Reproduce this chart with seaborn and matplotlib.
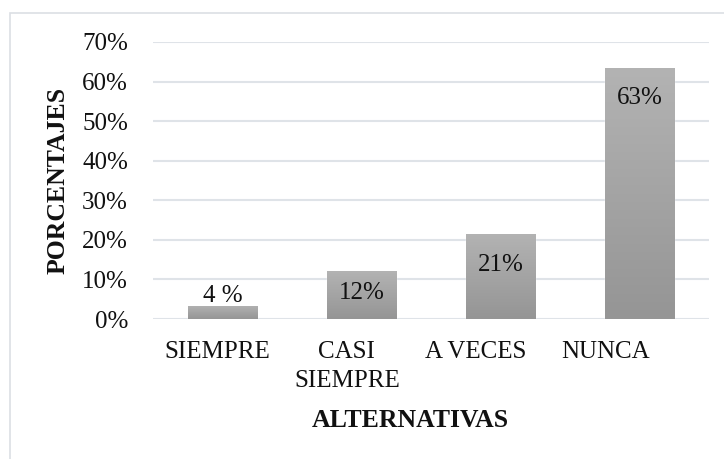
import numpy as np
import pandas as pd
import matplotlib
matplotlib.use('Agg')
import matplotlib.pyplot as plt
from matplotlib.colors import LinearSegmentedColormap
from matplotlib.patches import Rectangle
import seaborn as sns

# datos del gráfico
alternativas = ['SIEMPRE', 'CASI\nSIEMPRE', 'A VECES', 'NUNCA']
porcentajes = [3.4, 12.1, 21.5, 63.4]
etiquetas = ['4 %', '12%', '21%', '63%']

sns.set_style('white')
plt.rcParams['font.family'] = ['Liberation Serif', 'DejaVu Serif']

df = pd.DataFrame({'Alternativa': alternativas, 'Porcentaje': porcentajes})

fig = plt.figure(figsize=(7.24, 4.59), dpi=100)
ax = fig.add_axes([0.2113, 0.305, 0.768, 0.6035])

sns.barplot(data=df, x='Alternativa', y='Porcentaje', color='#a6a6a6',
            width=0.5, ax=ax, zorder=3)

# relleno degradado en cada barra
degradado = LinearSegmentedColormap.from_list('gris', ['#959595', '#b3b3b3'])
grad = np.linspace(0, 1, 256).reshape(-1, 1)
for barra in ax.patches:
    x0, y0 = barra.get_x(), barra.get_y()
    w, h = barra.get_width(), barra.get_height()
    img = ax.imshow(grad, cmap=degradado, origin='lower', aspect='auto',
                    extent=[x0, x0 + w, y0, y0 + h], zorder=4)
    img.set_clip_path(barra)

ax.set_xlim(-0.5, len(alternativas) - 0.5)
ax.set_ylim(0, 70)
ax.set_yticks(np.arange(0, 71, 10))
ax.set_yticklabels([f'{v}%' for v in range(0, 71, 10)])

# etiquetas de datos (dentro de la barra, cerca del extremo)
desplaz = [10, -22, -31, -30]
for i, (v, t) in enumerate(zip(porcentajes, etiquetas)):
    ax.annotate(t, xy=(i, v), xytext=(0, desplaz[i]), textcoords='offset pixels',
                ha='center', va='center', fontsize=18, color='#111111', zorder=6)

ax.grid(axis='y', color='#dfe3e8', linewidth=1.5, zorder=0)
ax.grid(axis='x', visible=False)
sns.despine(ax=ax, left=True, bottom=True, right=True, top=True)

# las etiquetas del eje x quedan algo corridas a la izquierda, como en el original
ax.set_xticks(np.arange(len(alternativas)) * 0.93 - 0.035)
ax.set_xticklabels(alternativas, linespacing=1.4)
ax.tick_params(axis='x', length=0, pad=16, labelsize=18, colors='#111111')
ax.tick_params(axis='y', length=0, pad=18, labelsize=18, colors='#111111')

ax.set_xlabel('ALTERNATIVAS', fontsize=18.5, fontweight='bold', color='#111111')
ax.set_ylabel('PORCENTAJES', fontsize=18.5, fontweight='bold', color='#111111')
ax.xaxis.set_label_coords(0.462, -0.365)
ax.xaxis.label.set_va('center')
ax.yaxis.set_label_coords(-0.171, 0.5)
ax.yaxis.label.set_va('center')

# borde del área del gráfico
fig.patches.append(Rectangle((10 / 724, -0.5), 2, 1 - 13 / 459 + 0.5,
                             transform=fig.transFigure, fill=False,
                             edgecolor='#dcdfe4', linewidth=1.2))

fig.savefig('out.png', dpi=100)
